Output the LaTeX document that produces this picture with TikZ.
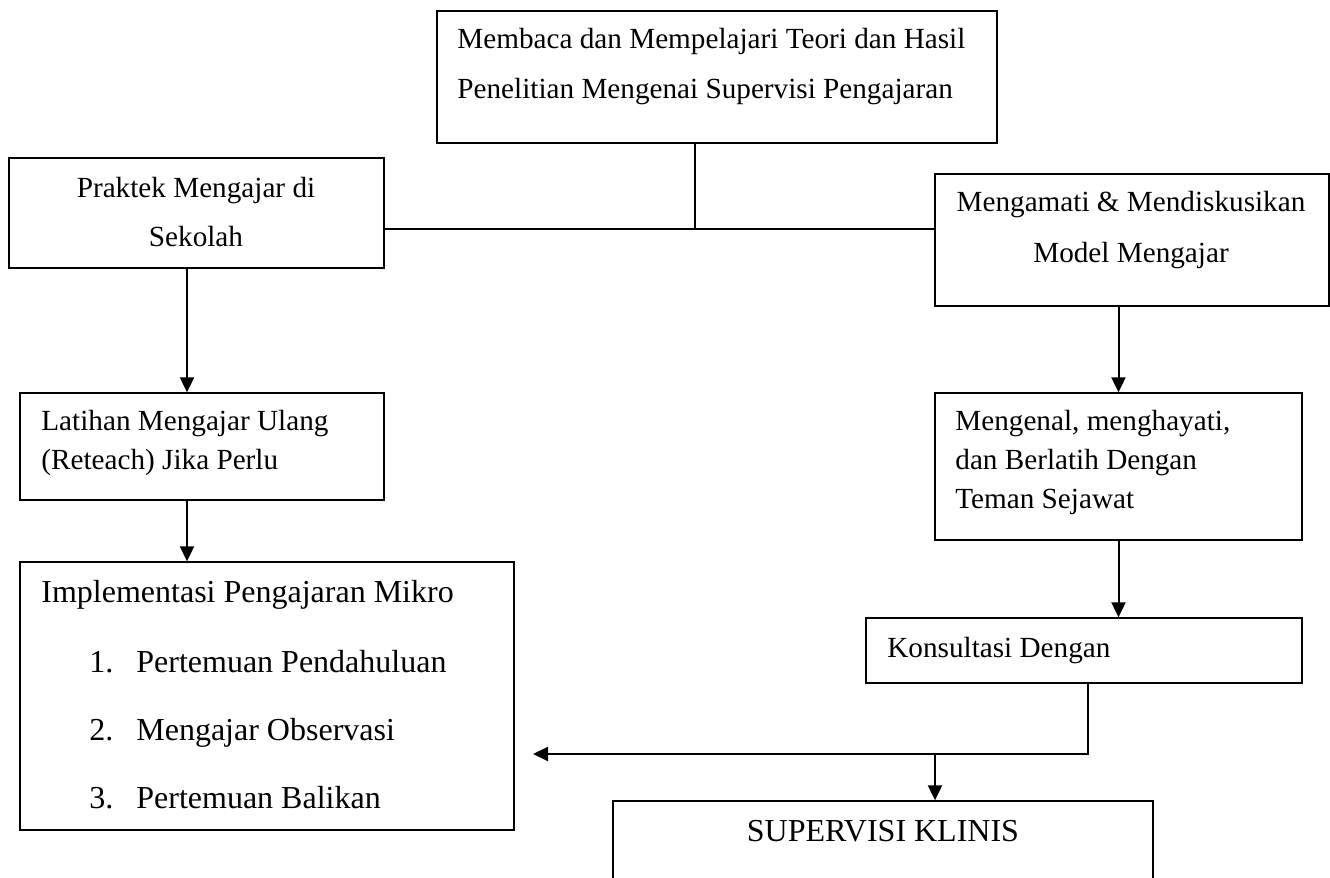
\documentclass[tikz,border=0pt]{standalone}
\usepackage{fontspec}
\setmainfont{Liberation Serif}
\usetikzlibrary{arrows.meta,fit}

\tikzset{
  kotak/.style={draw, line width=0.65pt, inner sep=0pt},
  garis/.style={line width=0.8pt},
  teks/.style={inner sep=0pt, anchor=base west, font=\fontsize{14.6}{17}\selectfont},
  teksbesar/.style={inner sep=0pt, anchor=base west, font=\fontsize{16}{19}\selectfont},
  panah/.style={line width=1pt, -{Triangle[length=7.5pt,width=7pt]}}
}

\begin{document}
\begin{tikzpicture}[x=0.5pt,y=-0.5pt]
    \useasboundingbox (0,0) rectangle (1330,878);
    \clip (0,0) rectangle (1330,878);
    % kotak
    \node [kotak, fit={(437,11) (997,143)}] (teori) {};
    \node [kotak, fit={(9,158) (384,268)}] (praktek) {};
    \node [kotak, fit={(935,174) (1329,306)}] (amati) {};
    \node [kotak, fit={(20,393) (384,500)}] (latihan) {};
    \node [kotak, fit={(935,393) (1302,540)}] (kenal) {};
    \node [kotak, fit={(20,562) (514,830)}] (implementasi) {};
    \node [kotak, fit={(866,618) (1302,683)}] (konsultasi) {};
    \node [kotak, fit={(613,801) (1153,940)}] (supervisi) {};
    % teks
    \node [teks] (teori1) at (457,48) {Membaca dan Mempelajari Teori dan Hasil};
    \node [teks] (teori2) at (457,98) {Penelitian Mengenai Supervisi Pengajaran};
    \node [teks, anchor=base] (praktek1) at (196,197) {Praktek Mengajar di};
    \node [teks, anchor=base] (praktek2) at (196,246) {Sekolah};
    \node [teks, anchor=base] (amati1) at (1131,211) {Mengamati \& Mendiskusikan};
    \node [teks, anchor=base] (amati2) at (1131,262) {Model Mengajar};
    \node [teks] (latihan1) at (41,430) {Latihan Mengajar Ulang};
    \node [teks] (latihan2) at (41,469) {(Reteach) Jika Perlu};
    \node [teks] (kenal1) at (955,430) {Mengenal, menghayati,};
    \node [teks] (kenal2) at (955,469) {dan Berlatih Dengan};
    \node [teks] (kenal3) at (955,508) {Teman Sejawat};
    \node [teks] (konsultasi1) at (887,657) {Konsultasi Dengan};
    \node [teksbesar, anchor=base] (supervisi1) at (883,841) {SUPERVISI KLINIS};
    \node [teksbesar] (implementasi1) at (41,602) {Implementasi Pengajaran Mikro};
    \node [teksbesar] (langkah1) at (89,672) {\makebox[23.5pt][l]{1.}Pertemuan Pendahuluan};
    \node [teksbesar] (langkah2) at (89,740) {\makebox[23.5pt][l]{2.}Mengajar Observasi};
    \node [teksbesar] (langkah3) at (89,808) {\makebox[23.5pt][l]{3.}Pertemuan Balikan};
    % garis
    \coordinate (temu) at (695,229);
    \draw [garis] (teori.south -| temu) -- (temu);
    \draw [garis] (praktek.east |- temu) -- (amati.west |- temu);
    \coordinate (kiri) at (187,0);
    \draw [panah] (praktek.south -| kiri) -- (latihan.north -| kiri);
    \draw [panah] (latihan.south -| kiri) -- (implementasi.north -| kiri);
    \draw [panah] (amati.south -| kenal.north) -- (kenal.north);
    \draw [panah] (kenal.south) -- (konsultasi.north -| kenal.south);
    \coordinate (belok) at (1088,754);
    \coordinate (ujung) at (533,754);
    \draw [panah] (konsultasi.south -| belok) -- (belok) -- (ujung);
    \coordinate (cabang) at (935,754);
    \draw [panah] (cabang) -- (supervisi.north -| cabang);
\end{tikzpicture}
\end{document}
